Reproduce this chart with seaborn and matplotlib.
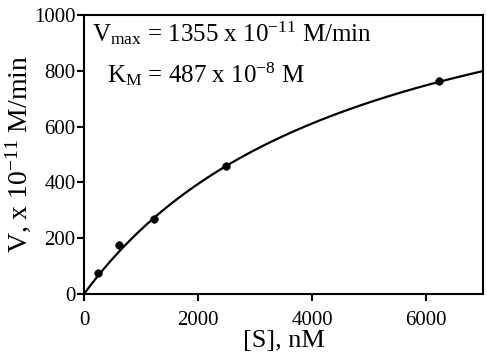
import numpy as np
import pandas as pd
import matplotlib
matplotlib.use('Agg')
import matplotlib.pyplot as plt
import seaborn as sns

# ── Data ─────────────────────────────────────
s_nm = [250, 610, 1230, 2490, 6230]      # [S], nM
v_obs = [74, 175, 270, 460, 765]        # V, x 1e-11 M/min
VMAX = 1355                              # x 1e-11 M/min
KM_NM = 4870                             # 487 x 1e-8 M in nM

s_fit = np.linspace(0, 7000, 300)
v_fit = VMAX * s_fit / (KM_NM + s_fit)

pts = pd.DataFrame({'S': s_nm, 'V': v_obs})
fit = pd.DataFrame({'S': s_fit, 'V': v_fit})

# ── Style ────────────────────────────────────
sns.set_theme(style='ticks')
plt.rcParams['font.family'] = ['Liberation Serif', 'DejaVu Serif']
plt.rcParams['mathtext.fontset'] = 'custom'
plt.rcParams['mathtext.rm'] = 'Liberation Serif'
plt.rcParams['mathtext.it'] = 'Liberation Serif:italic'
plt.rcParams['text.color'] = 'black'
plt.rcParams['axes.labelcolor'] = 'black'

fig = plt.figure(figsize=(4.87, 3.64), dpi=100)
ax = fig.add_axes([0.1725, 0.1923, 0.8193, 0.7665])

sns.lineplot(data=fit, x='S', y='V', color='black', linewidth=1.6, ax=ax)
sns.scatterplot(data=pts, x='S', y='V', color='black', s=30,
                edgecolor='black', zorder=3, ax=ax)

ax.set_xlim(0, 7000)
ax.set_ylim(0, 1000)
ax.set_xticks([0, 2000, 4000, 6000])
ax.set_yticks([0, 200, 400, 600, 800, 1000])
ax.tick_params(direction='out', length=5, width=1.5, labelsize=15,
               colors='black')
ax.tick_params(axis='x', pad=7)
ax.tick_params(axis='y', pad=1)
for sp in ax.spines.values():
    sp.set_linewidth(1.5)
    sp.set_color('black')
    sp.set_visible(True)

ax.set_xlabel('[S], nM', fontsize=19, labelpad=0)
ax.set_ylabel(r'V, x 10$^{\mathrm{-11}}$ M/min', fontsize=20, labelpad=1)

ax.text(0.02, 0.985, r'V$_{\mathrm{max}}$ = 1355 x 10$^{\mathrm{-11}}$ M/min',
        transform=ax.transAxes, fontsize=18, va='top', ha='left')
ax.text(0.058, 0.84, r'K$_{\mathrm{M}}$ = 487 x 10$^{\mathrm{-8}}$ M',
        transform=ax.transAxes, fontsize=18, va='top', ha='left')

fig.savefig('out.png', dpi=100)
